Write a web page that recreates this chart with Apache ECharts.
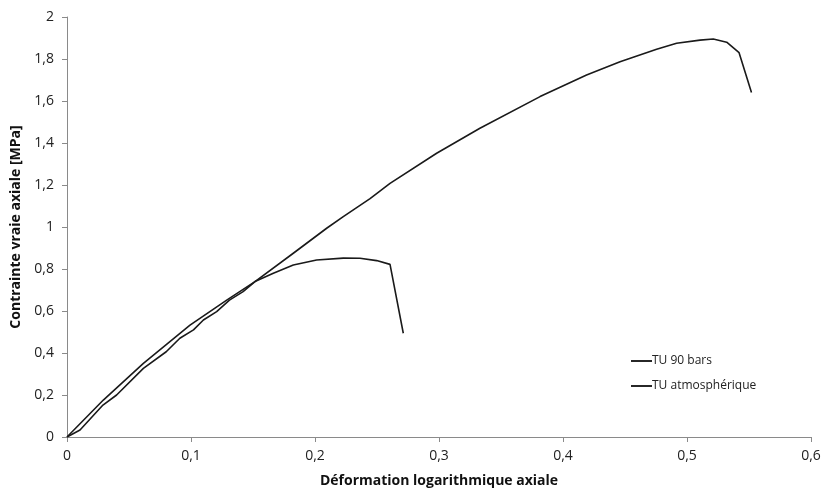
<!DOCTYPE html>
<html><head><meta charset="utf-8">
<script src="https://cdn.jsdelivr.net/npm/echarts@6/dist/echarts.min.js"></script>
<style>html,body{margin:0;padding:0;background:#fff}#c{width:826px;height:496px}</style>
</head><body><div id="c"></div>
<script>
var seriesNames = ['TU 90 bars', 'TU atmosphérique'];
var tu90x = [0, 0.0293, 0.0616, 0.0992, 0.1288, 0.1516, 0.1825, 0.2094, 0.2228, 0.2444, 0.2605, 0.2981, 0.333, 0.3815, 0.419, 0.446, 0.4755, 0.4916, 0.5105, 0.5212, 0.532, 0.542, 0.552];
var tu90y = [0, 0.176, 0.351, 0.533, 0.652, 0.740, 0.875, 0.994, 1.049, 1.135, 1.208, 1.351, 1.470, 1.621, 1.724, 1.787, 1.846, 1.875, 1.890, 1.895, 1.88, 1.83, 1.64];
var atmX = [0, 0.0105, 0.029, 0.040, 0.0616, 0.080, 0.091, 0.102, 0.110, 0.1207, 0.131, 0.142, 0.1516, 0.1664, 0.1825, 0.2013, 0.2228, 0.2363, 0.2497, 0.2605, 0.2712];
var atmY = [0, 0.033, 0.152, 0.200, 0.327, 0.406, 0.470, 0.510, 0.557, 0.597, 0.652, 0.692, 0.740, 0.780, 0.819, 0.843, 0.852, 0.851, 0.840, 0.822, 0.494];
var xTicks = [0, 0.1, 0.2, 0.3, 0.4, 0.5, 0.6];
var yTicks = [0, 0.2, 0.4, 0.6, 0.8, 1, 1.2, 1.4, 1.6, 1.8, 2];

function pairs(xs, ys){ return xs.map(function(x,i){return [x, ys[i]];}); }
function fmt(v){ return String(Math.round(v*10)/10).replace('.', ','); }

var FONT = 'Open Sans';
var chart = echarts.init(document.getElementById('c'), null, {renderer:'canvas'});
chart.setOption({
  animation:false,
  backgroundColor:'#fff',
  textStyle:{fontFamily:FONT},
  grid:{left:67, right:15, top:17, bottom:59},
  legend:{
    orient:'vertical', left:626, top:350, itemGap:13, itemWidth:21, itemHeight:14,
    icon:'path://M0,0H1V0.09H0Z',
    textStyle:{fontFamily:FONT, fontSize:12, color:'#222', padding:[0,0,0,-5]},
    data:seriesNames
  },
  xAxis:{
    type:'value', min:xTicks[0], max:xTicks[xTicks.length-1], interval:0.1,
    name:'Déformation logarithmique axiale', nameLocation:'middle', nameGap:37,
    nameTextStyle:{fontFamily:FONT, fontWeight:'bold', fontSize:14, color:'#111'},
    axisLine:{lineStyle:{color:'#8a8a8a', width:1}},
    axisTick:{show:true, length:5, lineStyle:{color:'#8a8a8a'}},
    axisLabel:{fontFamily:FONT, fontSize:14, color:'#222', margin:12, formatter:fmt},
    splitLine:{show:false}
  },
  yAxis:{
    type:'value', min:yTicks[0], max:yTicks[yTicks.length-1], interval:0.2,
    name:'Contrainte vraie axiale [MPa]', nameLocation:'middle', nameGap:41,
    nameTextStyle:{fontFamily:FONT, fontWeight:'bold', fontSize:14, color:'#111'},
    axisLine:{show:true, lineStyle:{color:'#8a8a8a', width:1}},
    axisTick:{show:true, length:5, lineStyle:{color:'#8a8a8a'}},
    axisLabel:{fontFamily:FONT, fontSize:14, color:'#222', margin:13, formatter:fmt},
    splitLine:{show:false}
  },
  series:[
    {name:seriesNames[0], type:'line', data:pairs(tu90x, tu90y), showSymbol:false, symbol:'none',
     lineStyle:{color:'#1a1a1a', width:1.6}, itemStyle:{color:'#1a1a1a'}},
    {name:seriesNames[1], type:'line', data:pairs(atmX, atmY), showSymbol:false, symbol:'none',
     lineStyle:{color:'#1a1a1a', width:1.6}, itemStyle:{color:'#1a1a1a'}}
  ]
});
</script></body></html>
